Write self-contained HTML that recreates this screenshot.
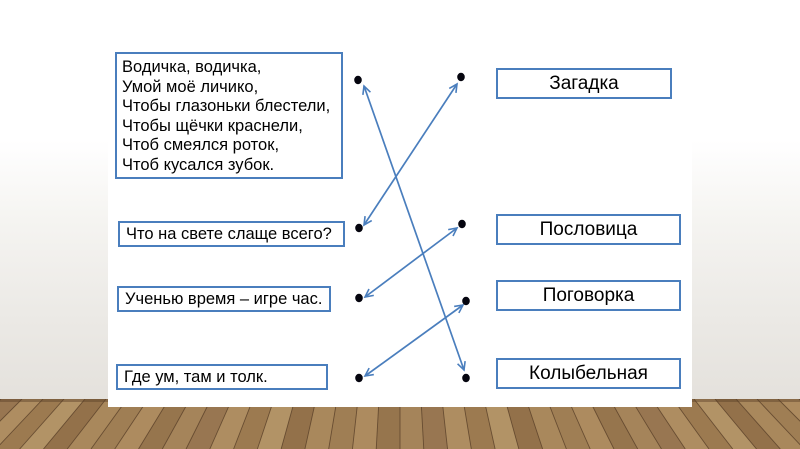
<!DOCTYPE html>
<html><head><meta charset="utf-8">
<style>
html,body{margin:0;padding:0;}
body{width:800px;height:449px;position:relative;overflow:hidden;background:#fff;font-family:"Liberation Sans",Arial,sans-serif;}
#wall{position:absolute;left:0;top:0;width:800px;height:402px;background:linear-gradient(to bottom,#ffffff 0px,#ffffff 140px,#f5f4f1 220px,#ebe9e5 320px,#e4e1dc 402px);}
#floor{position:absolute;left:0;top:399px;width:800px;height:50px;}
#panel{position:absolute;left:108px;top:0;width:584px;height:407px;background:#fff;}
.box{position:absolute;box-sizing:border-box;border:2px solid #4a7ebd;background:#fff;color:#000;font-size:16.5px;white-space:nowrap;}
.l{display:flex;align-items:center;padding-left:5px;}
.r{display:flex;align-items:center;justify-content:center;font-size:19px;}
#b1{left:115px;top:52px;width:228px;height:127px;padding:4px 0 0 5px;line-height:19.5px;display:block;}
svg.ov{position:absolute;left:0;top:0;}
</style></head><body>
<div id="wall"></div>
<svg id="floor" width="800" height="50" viewBox="0 399 800 50">
<rect x="0" y="399" width="800" height="50" fill="#a07e52"/>
<g id="planks"></g>
</svg>
<div id="panel"></div>

<div class="box" id="b1">Водичка, водичка,<br>Умой моё личико,<br>Чтобы глазоньки блестели,<br>Чтобы щёчки краснели,<br>Чтоб смеялся роток,<br>Чтоб кусался зубок.</div>
<div class="box l" style="left:118px;top:221px;width:227px;height:26px;padding-left:6px;">Что на свете слаще всего?</div>
<div class="box l" style="left:117px;top:286px;width:214px;height:26px;padding-left:6px;">Ученью время – игре час.</div>
<div class="box l" style="left:116px;top:364px;width:212px;height:26px;padding-left:6px;">Где ум, там и толк.</div>

<div class="box r" style="left:496px;top:68px;width:176px;height:31px;">Загадка</div>
<div class="box r" style="left:496px;top:214px;width:185px;height:31px;">Пословица</div>
<div class="box r" style="left:496px;top:280px;width:185px;height:31px;">Поговорка</div>
<div class="box r" style="left:496px;top:358px;width:185px;height:31px;">Колыбельная</div>

<svg class="ov" width="800" height="449" viewBox="0 0 800 449">
<defs>
<marker id="ah" markerUnits="userSpaceOnUse" markerWidth="12" markerHeight="12" refX="9" refY="5" orient="auto-start-reverse" viewBox="0 0 12 10">
<path d="M1,1 L9,5 L1,9" fill="none" stroke="#4a7ebd" stroke-width="1.6"/>
</marker>
</defs>
<g stroke="#4a7ebd" stroke-width="1.7" fill="none" marker-start="url(#ah)" marker-end="url(#ah)">
<line x1="364" y1="86" x2="464" y2="370"/>
<line x1="457" y1="84" x2="364" y2="225"/>
<line x1="457" y1="228" x2="365" y2="297"/>
<line x1="463" y1="305" x2="365" y2="376"/>
</g>
<g fill="#05050f">
<ellipse cx="358" cy="80" rx="3.8" ry="4.2"/>
<ellipse cx="461" cy="77" rx="3.8" ry="4.2"/>
<ellipse cx="359" cy="228" rx="3.8" ry="4.2"/>
<ellipse cx="462" cy="224" rx="3.8" ry="4.2"/>
<ellipse cx="359" cy="298" rx="3.8" ry="4.2"/>
<ellipse cx="466" cy="301" rx="3.8" ry="4.2"/>
<ellipse cx="359" cy="378" rx="3.8" ry="4.2"/>
<ellipse cx="466" cy="378" rx="3.8" ry="4.2"/>
</g>
</svg>

<script>
(function(){
var g=document.getElementById('planks');
var ns='http://www.w3.org/2000/svg';
var cols=['#a5845a','#987651','#ae8d61','#9c7a50','#b29366','#93714a','#a9885c','#9f7e54','#ad8b5f','#96754d'];
var vy=20, top=399, bot=449, w=21;
var k=(bot-vy)/(top-vy);
for(var i=-26;i<26;i++){
  var x0=400+i*w, x1=400+(i+1)*w;
  var bx0=400+(x0-400)*k, bx1=400+(x1-400)*k;
  var p=document.createElementNS(ns,'polygon');
  p.setAttribute('points',x0+','+top+' '+x1+','+top+' '+bx1+','+bot+' '+bx0+','+bot);
  p.setAttribute('fill',cols[(i+40)%cols.length]);
  g.appendChild(p);
  var l=document.createElementNS(ns,'line');
  l.setAttribute('x1',x0);l.setAttribute('y1',top);l.setAttribute('x2',bx0);l.setAttribute('y2',bot);
  l.setAttribute('stroke','#5a4029');l.setAttribute('stroke-width','0.9');l.setAttribute('opacity','0.8');
  g.appendChild(l);
}
var sh=document.createElementNS(ns,'rect');
sh.setAttribute('x','0');sh.setAttribute('y',top);sh.setAttribute('width','800');sh.setAttribute('height','3');
sh.setAttribute('fill','#5a4028');sh.setAttribute('opacity','0.45');
g.appendChild(sh);
})();
</script>
</body></html>
